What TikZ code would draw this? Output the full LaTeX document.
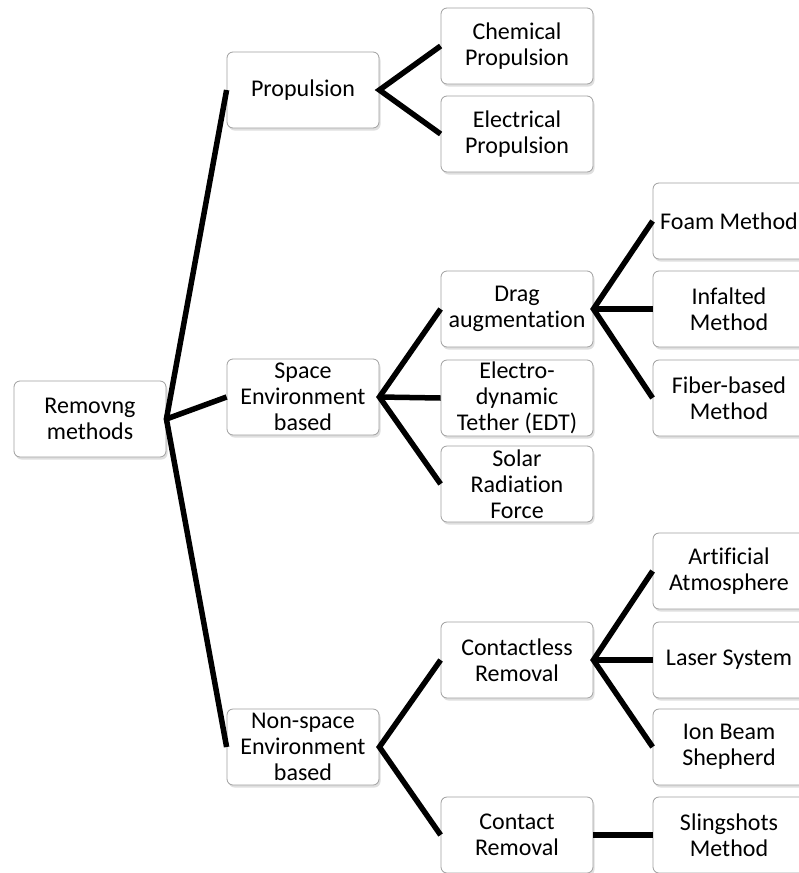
\documentclass[tikz,border=0pt]{standalone}
\usepackage{fontspec}
\setmainfont{Carlito}[Ligatures={NoCommon}]
\usetikzlibrary{shadows}
\begin{document}
\begin{tikzpicture}[x=1pt, y=-1pt,
    box/.style={rectangle, rounded corners=6pt, draw=gray!75, line width=0.8pt, fill=white,
        minimum width=152pt, minimum height=76pt, inner sep=0pt, align=center,
        font=\fontsize{24}{26}\selectfont,
        drop shadow={opacity=0.25, shadow xshift=1.5pt, shadow yshift=-2.5pt}},
    link/.style={line width=5.5pt}]
\clip (0,0) rectangle (799,873);
\useasboundingbox (0,0) rectangle (799,873);
\node[box] (rm) at (90,419) {Removng\\methods};
\node[box] (prop) at (303,90) {Propulsion};
\node[box] (space) at (303,397) {Space\\Environment\\based};
\node[box] (nonspace) at (303,747) {Non-space\\Environment\\based};
\node[box] (chem) at (517,46) {Chemical\\Propulsion};
\node[box] (elec) at (517,134) {Electrical\\Propulsion};
\node[box] (drag) at (517,309) {Drag\\augmentation};
\node[box] (edt) at (517,398) {Electro-\\dynamic\\Tether (EDT)};
\node[box] (solar) at (517,484) {Solar\\Radiation\\Force};
\node[box] (foam) at (729,221) {Foam Method};
\node[box] (infl) at (729,309) {Infalted\\Method};
\node[box] (fiber) at (729,398) {Fiber-based\\Method};
\node[box] (cless) at (517,660) {Contactless\\Removal};
\node[box] (contact) at (517,835) {Contact\\Removal};
\node[box] (artif) at (729,571) {Artificial\\Atmosphere};
\node[box] (laser) at (729,660) {Laser System};
\node[box] (ion) at (729,747) {Ion Beam\\Shepherd};
\node[box] (sling) at (729,835) {Slingshots\\Method};

\draw[link] (prop.west)--(rm.east)--(nonspace.west);
\draw[link] (rm.east)--(space.west);
\draw[link] (chem.west)--(prop.east)--(elec.west);
\draw[link] (drag.west)--(space.east)--(solar.west);
\draw[link] (space.east)--(edt.west);
\draw[link] (foam.west)--(drag.east)--(fiber.west);
\draw[link] (drag.east)--(infl.west);
\draw[link] (cless.west)--(nonspace.east)--(contact.west);
\draw[link] (artif.west)--(cless.east)--(ion.west);
\draw[link] (cless.east)--(laser.west);
\draw[link] (contact.east)--(sling.west);
\end{tikzpicture}
\end{document}
